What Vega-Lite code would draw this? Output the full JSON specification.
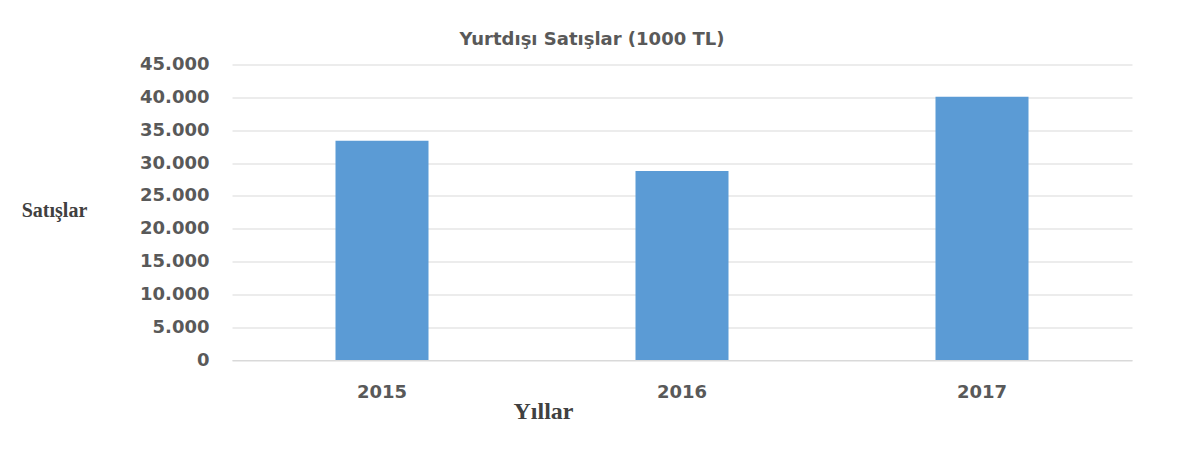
{
  "$schema": "https://vega.github.io/schema/vega-lite/v6.json",
  "autosize": {"type": "none"},
  "width": 900,
  "height": 295.5,
  "padding": {"left": 232, "top": 64.5, "right": 63, "bottom": 104},
  "background": "white",
  "config": {
    "locale": {"number": {"decimal": ",", "thousands": ".", "grouping": [3], "currency": ["", " TL"]}},
    "view": {"stroke": null},
    "axis": {"labelFont": "DejaVu Sans", "labelFontWeight": "bold", "labelColor": "#595959", "labelFontSize": 18}
  },
  "title": {
    "text": "Yurtdışı Satışlar (1000 TL)",
    "font": "DejaVu Sans",
    "fontSize": 18,
    "fontWeight": "bold",
    "color": "#595959",
    "anchor": "middle",
    "dx": -90,
    "offset": 7
  },
  "data": {
    "values": [
      {"Yil": "2015", "Satis": 33400},
      {"Yil": "2016", "Satis": 28800},
      {"Yil": "2017", "Satis": 40100}
    ]
  },
  "mark": {"type": "bar", "color": "#5b9bd5"},
  "encoding": {
    "x": {
      "field": "Yil",
      "type": "nominal",
      "scale": {"paddingInner": 0.69, "paddingOuter": 0.345},
      "axis": {
        "title": "Yıllar",
        "labelAngle": 0,
        "ticks": false,
        "domainColor": "#d9d9d9",
        "labelPadding": 23,
        "titleFont": "Liberation Serif",
        "titleFontSize": 24,
        "titleFontWeight": "bold",
        "titleColor": "#404040",
        "titleX": 311,
        "titleY": 51,
        "titleBaseline": "middle",
        "titleAlign": "center"
      }
    },
    "y": {
      "field": "Satis",
      "type": "quantitative",
      "scale": {"domain": [0, 45000], "nice": false},
      "axis": {
        "title": "Satışlar",
        "values": [0, 5000, 10000, 15000, 20000, 25000, 30000, 35000, 40000, 45000],
        "format": ",d",
        "domain": false,
        "ticks": false,
        "gridColor": "#d9d9d9",
        "labelPadding": 23,
        "titleFont": "Liberation Serif",
        "titleFontSize": 20,
        "titleFontWeight": "bold",
        "titleColor": "#404040",
        "titleAngle": 0,
        "titleX": -178,
        "titleY": 146,
        "titleBaseline": "middle",
        "titleAlign": "center"
      }
    }
  }
}
